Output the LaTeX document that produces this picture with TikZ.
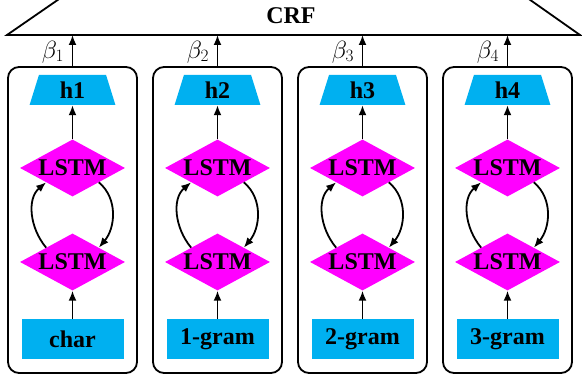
\documentclass[tikz,border=0pt]{standalone}
\usepackage{fontspec}
\setmainfont{Liberation Serif}
\usetikzlibrary{arrows.meta,shapes.geometric,positioning}
\definecolor{hcyan}{HTML}{00B0F0}
\definecolor{lmag}{HTML}{FF00FF}

\begin{document}
\begin{tikzpicture}[
    x=1pt,y=1pt,
    font=\fontsize{24}{27}\selectfont\bfseries,
    panel/.style={draw,line width=1.8pt,rounded corners=11pt,
        minimum width=129pt,minimum height=306pt},
    hnode/.style={trapezium,trapezium stretches=true,fill=hcyan,
        trapezium left angle=78,trapezium right angle=78,
        minimum width=86pt,minimum height=30pt,inner sep=0pt},
    lstm/.style={diamond,fill=lmag,aspect=1.84,
        minimum width=105pt,minimum height=57pt,inner sep=0pt},
    inbox/.style={rectangle,fill=hcyan,
        minimum width=102pt,minimum height=40pt},
    bet/.style={font=\fontsize{24}{27}\selectfont},
    arr/.style={-{Latex[length=10pt,width=8pt]},line width=1.8pt},
    ]
    \useasboundingbox (0,0) rectangle (582,385);

    %CRF layer
    \coordinate (crf) at (291,350);
    \draw[line width=1.8pt] (62,388) -- (7,350) -- (580,350) -- (526,388);
    \node (crflab) at (291,369) {CRF};

    %char
    \node[panel] (p1) at (72.5,165) {};
    \node[hnode] (h1) at (72.5,295) {h1};
    \node[lstm] (u1) at (72.5,217) {LSTM};
    \node[lstm] (d1) at (72.5,123) {LSTM};
    \node[inbox] (x1) at (72.5,46) {char};
    \draw[arr] (x1) -- (d1);
    \draw[arr] (u1) -- (h1);
    \draw[arr] (d1.north west) to[out=130,in=220] (u1.south west);
    \draw[arr] (u1.south east) to[out=-40,in=50] (d1.north east);
    \draw[arr] (p1.north) -- (p1.north |- crf);
    \node[bet] (b1) at (53,333) {$\beta_1$};

    %1-gram
    \node[panel] (p2) at (217.5,165) {};
    \node[hnode] (h2) at (217.5,295) {h2};
    \node[lstm] (u2) at (217.5,217) {LSTM};
    \node[lstm] (d2) at (217.5,123) {LSTM};
    \node[inbox] (x2) at (217.5,46) {1-gram};
    \draw[arr] (x2) -- (d2);
    \draw[arr] (u2) -- (h2);
    \draw[arr] (d2.north west) to[out=130,in=220] (u2.south west);
    \draw[arr] (u2.south east) to[out=-40,in=50] (d2.north east);
    \draw[arr] (p2.north) -- (p2.north |- crf);
    \node[bet] (b2) at (198,333) {$\beta_2$};

    %2-gram
    \node[panel] (p3) at (362.5,165) {};
    \node[hnode] (h3) at (362.5,295) {h3};
    \node[lstm] (u3) at (362.5,217) {LSTM};
    \node[lstm] (d3) at (362.5,123) {LSTM};
    \node[inbox] (x3) at (362.5,46) {2-gram};
    \draw[arr] (x3) -- (d3);
    \draw[arr] (u3) -- (h3);
    \draw[arr] (d3.north west) to[out=130,in=220] (u3.south west);
    \draw[arr] (u3.south east) to[out=-40,in=50] (d3.north east);
    \draw[arr] (p3.north) -- (p3.north |- crf);
    \node[bet] (b3) at (343,333) {$\beta_3$};

    %3-gram
    \node[panel] (p4) at (507.5,165) {};
    \node[hnode] (h4) at (507.5,295) {h4};
    \node[lstm] (u4) at (507.5,217) {LSTM};
    \node[lstm] (d4) at (507.5,123) {LSTM};
    \node[inbox] (x4) at (507.5,46) {3-gram};
    \draw[arr] (x4) -- (d4);
    \draw[arr] (u4) -- (h4);
    \draw[arr] (d4.north west) to[out=130,in=220] (u4.south west);
    \draw[arr] (u4.south east) to[out=-40,in=50] (d4.north east);
    \draw[arr] (p4.north) -- (p4.north |- crf);
    \node[bet] (b4) at (488,333) {$\beta_4$};

\end{tikzpicture}
\end{document}
